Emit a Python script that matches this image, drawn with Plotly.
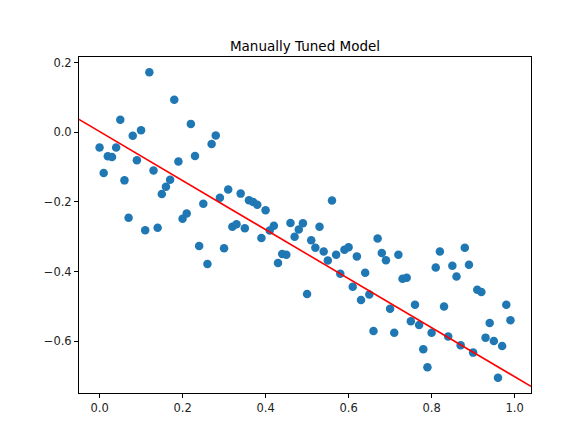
import plotly.graph_objects as go

# Data
x_values = [i / 100 for i in range(100)]
y_values = [
    -0.044, -0.117, -0.069, -0.071, -0.044, 0.036, -0.138, -0.245, -0.010, -0.080,
    0.006, -0.281, 0.172, -0.110, -0.274, -0.177, -0.156, -0.136, 0.093, -0.084,
    -0.248, -0.233, 0.024, -0.068, -0.326, -0.205, -0.378, -0.034, -0.009, -0.188,
    -0.333, -0.164, -0.271, -0.264, -0.176, -0.275, -0.195, -0.200, -0.208, -0.303,
    -0.224, -0.282, -0.268, -0.375, -0.349, -0.351, -0.260, -0.300, -0.279, -0.261,
    -0.464, -0.310, -0.331, -0.271, -0.342, -0.368, -0.196, -0.351, -0.406, -0.337,
    -0.330, -0.443, -0.356, -0.481, -0.403, -0.465, -0.570, -0.305, -0.346, -0.367,
    -0.506, -0.575, -0.351, -0.420, -0.417, -0.542, -0.495, -0.553, -0.622, -0.674,
    -0.575, -0.388, -0.342, -0.500, -0.586, -0.383, -0.414, -0.611, -0.331, -0.380,
    -0.632, -0.452, -0.458, -0.589, -0.547, -0.599, -0.704, -0.613, -0.495, -0.539,
]
model_slope = -0.703
model_intercept = 0.002

x_tick_vals = [0.0, 0.2, 0.4, 0.6, 0.8, 1.0]
x_tick_text = ["0.0", "0.2", "0.4", "0.6", "0.8", "1.0"]
y_tick_vals = [-0.6, -0.4, -0.2, 0.0, 0.2]
y_tick_text = ["\u22120.6", "\u22120.4", "\u22120.2", "0.0", "0.2"]

title_text = "Manually Tuned Model"

# Matplotlib-like 5% margins
xmin, xmax = min(x_values), max(x_values)
ymin, ymax = min(y_values), max(y_values)
xpad = (xmax - xmin) * 0.05
ypad = (ymax - ymin) * 0.05
x_range = [xmin - xpad, xmax + xpad]
y_range = [ymin - ypad, ymax + ypad]

line_x = x_range
line_y = [model_slope * v + model_intercept for v in line_x]

fig = go.Figure()
fig.add_trace(go.Scatter(
    x=x_values, y=y_values, mode="markers",
    marker=dict(color="#1f77b4", size=8.5, line=dict(width=0)),
    showlegend=False, hoverinfo="skip",
))
fig.add_trace(go.Scatter(
    x=line_x, y=line_y, mode="lines",
    line=dict(color="red", width=1.6),
    showlegend=False, hoverinfo="skip",
))

axis_common = dict(
    showgrid=False, zeroline=False, showline=True, mirror=True,
    linecolor="black", linewidth=1, ticks="outside", ticklen=4,
    tickwidth=1, tickcolor="black",
    tickfont=dict(family="DejaVu Sans", size=11.5, color="#222222"),
)

# page body has an 8px margin, so the figure is 16px smaller than the window
fig.update_layout(
    width=568, height=423,
    margin=dict(l=71, r=45, t=49, b=38),
    paper_bgcolor="white", plot_bgcolor="white",
    font=dict(family="DejaVu Sans", color="black"),
    title=dict(
        text=title_text, x=0.5, xref="paper", xanchor="center",
        y=1, yref="paper", yanchor="bottom", pad=dict(b=6),
        font=dict(family="DejaVu Sans", size=13.5, color="black"),
    ),
    xaxis=dict(range=x_range, tickvals=x_tick_vals, ticktext=x_tick_text, **axis_common),
    yaxis=dict(range=y_range, tickvals=y_tick_vals, ticktext=y_tick_text, **axis_common),
)

fig.write_html("out.html")
